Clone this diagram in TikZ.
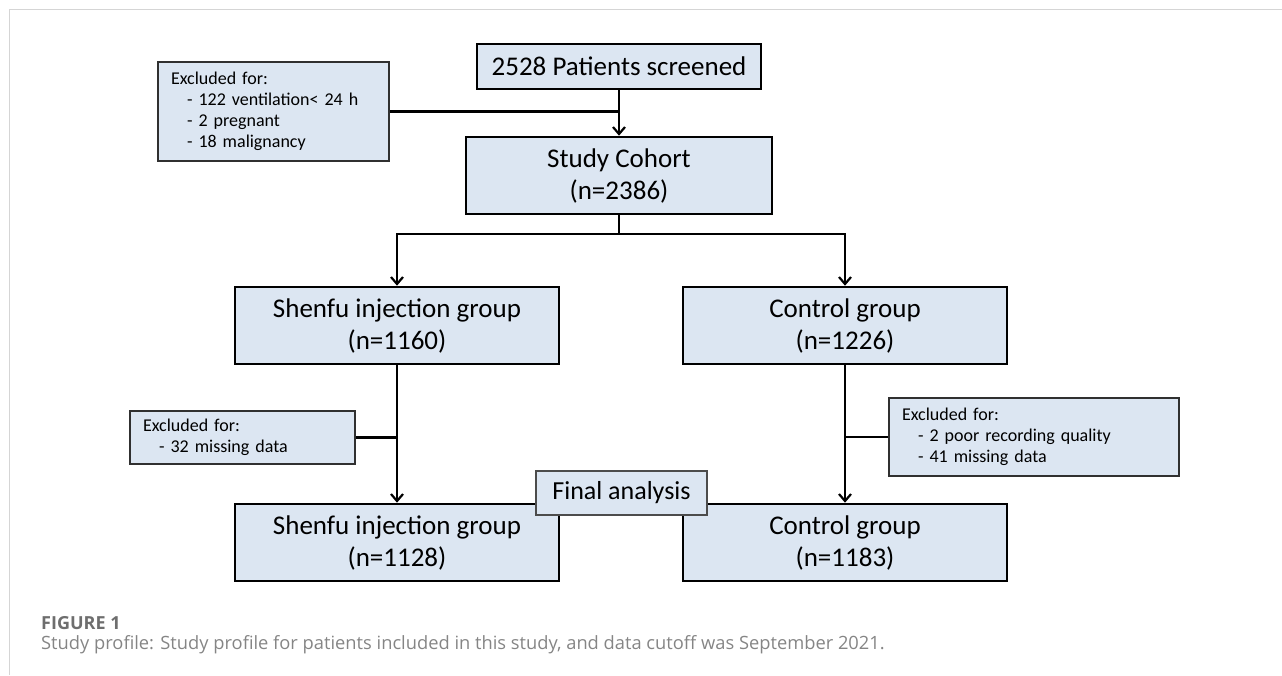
\documentclass[tikz,border=0pt]{standalone}
\usepackage{fontspec}
\setmainfont{Carlito}
\newfontfamily\capfont{Open Sans}
\usetikzlibrary{arrows.meta}
\definecolor{boxfill}{HTML}{DCE6F2}
\definecolor{framegray}{HTML}{D5D5D5}
\definecolor{capgray}{HTML}{6E6E6E}
\definecolor{captext}{HTML}{858585}
\definecolor{exborder}{HTML}{303030}
\tikzset{
  mainbox/.style={draw=black, line width=2.6pt, fill=boxfill, align=center, inner sep=0pt,
    font=\fontsize{27}{32}\selectfont},
  exbox/.style={draw=exborder, line width=1.6pt, fill=boxfill, align=left, inner sep=0pt,
    font=\fontsize{18}{21}\selectfont},
  fabox/.style={draw=black!70, line width=1.4pt, fill=boxfill, align=center, inner sep=0pt,
    font=\fontsize{26}{30}\selectfont},
  conn/.style={draw=black, line width=2.6pt},
  arr/.style={conn, -{Straight Barb[length=7pt,width=12pt,line width=2.2pt]}},
}
\begin{document}
\begin{tikzpicture}[x=1pt,y=-1pt]
\useasboundingbox (0,0) rectangle (1282,675);
% frame
\draw[framegray, line width=1.2pt] (9.5,675) -- (9.5,9.5) -- (1282,9.5);

% main boxes
\node[mainbox, minimum width=284pt, minimum height=45pt] (top) at (619,66.5) {2528 Patients screened};
\node[mainbox, minimum width=306pt, minimum height=77pt] (cohort) at (619,175.5) {Study Cohort\\(n=2386)};
\node[mainbox, minimum width=324pt, minimum height=77pt] (shenfuA) at (397,325.5) {Shenfu injection group\\(n=1160)};
\node[mainbox, minimum width=324pt, minimum height=77pt] (controlA) at (845,325.5) {Control group\\(n=1226)};
\node[mainbox, minimum width=324pt, minimum height=77pt] (shenfuB) at (397,542.5) {Shenfu injection group\\(n=1128)};
\node[mainbox, minimum width=324pt, minimum height=77pt] (controlB) at (845,542.5) {Control group\\(n=1183)};

% exclusion boxes
\node[exbox, minimum width=231pt, minimum height=99pt, text width=205pt] (exA) at (273.5,111.5)
  {Excluded for:\\\hspace*{16pt}- 122 ventilation< 24 h\\\hspace*{16pt}- 2 pregnant\\\hspace*{16pt}- 18 malignancy};
\node[exbox, minimum width=225pt, minimum height=53pt, text width=199pt] (exB) at (242.5,437.5)
  {Excluded for:\\\hspace*{16pt}- 32 missing data};
\node[exbox, minimum width=290pt, minimum height=78pt, text width=264pt] (exC) at (1034,437)
  {Excluded for:\\\hspace*{16pt}- 2 poor recording quality\\\hspace*{16pt}- 41 missing data};

% connectors
\coordinate (splitlevel) at (0,234);
\draw[conn] (exA.east) -- (exA.east -| top.south);
\draw[arr] (top.south) -- (cohort.north);
\draw[conn] (cohort.south) -- (cohort.south |- splitlevel);
\draw[arr] (shenfuA.north |- splitlevel) -- (shenfuA.north);
\draw[arr] (controlA.north |- splitlevel) -- (controlA.north);
\draw[conn, line cap=rect] (shenfuA.north |- splitlevel) -- (controlA.north |- splitlevel);
\draw[conn] (exB.east) -- (exB.east -| shenfuA.south);
\draw[conn] (exC.west) -- (exC.west -| controlA.south);
\draw[arr] (shenfuA.south) -- (shenfuB.north);
\draw[arr] (controlA.south) -- (controlB.north);

% final analysis label
\node[fabox, minimum width=171pt, minimum height=44pt] (final) at (621.5,493) {Final analysis};

% caption
\node[anchor=west, inner sep=0pt, text=capgray, font=\capfont\bfseries\fontsize{18}{21}\selectfont] (figlabel) at (41,623) {FIGURE 1};
\node[anchor=west, inner sep=0pt, text=captext, font=\capfont\fontsize{18.3}{21}\selectfont] (caption) at (41,645)
  {Study profile: Study profile for patients included in this study, and data cutoff was September 2021.};
\end{tikzpicture}
\end{document}
